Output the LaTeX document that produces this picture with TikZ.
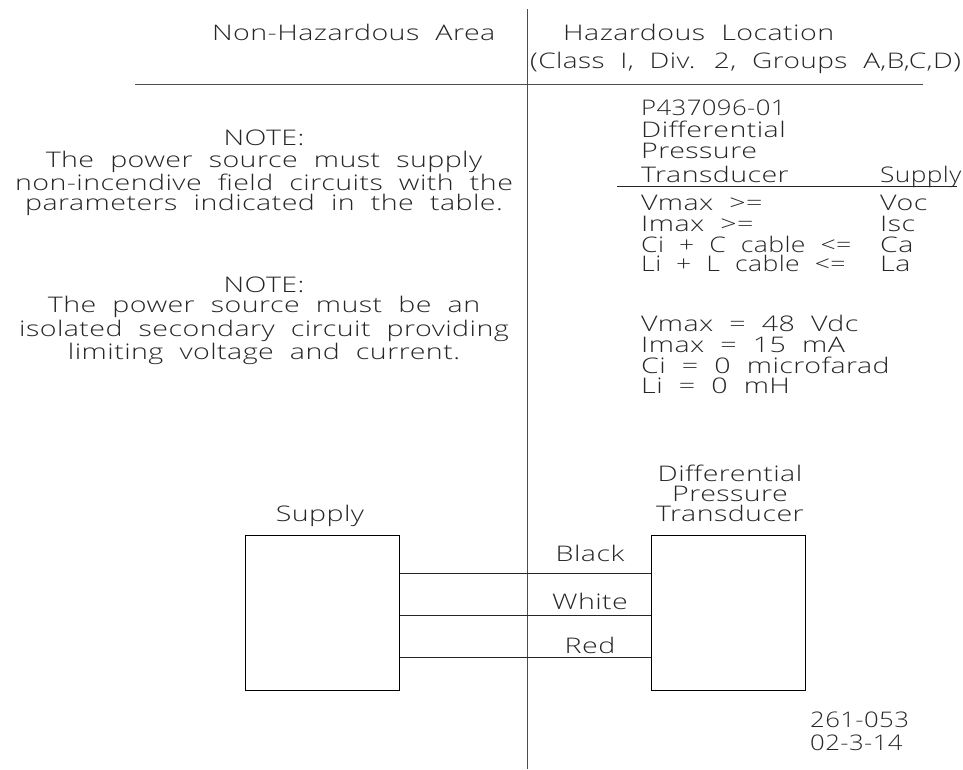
\documentclass[tikz,border=0pt]{standalone}
\usepackage{fontspec}
\usepackage{graphicx}
\setmainfont{Open Sans Light}[FakeStretch=1.33,LetterSpace=2,WordSpace=2.05]
\newcommand{\nar}[2][.9]{\scalebox{#1}[1]{#2}}
\begin{document}
\begin{tikzpicture}[x=1pt,y=-1pt,
 txt/.style={inner sep=0,anchor=base,font=\fontsize{21.5}{21.5}\selectfont,text=black!85},
 ltxt/.style={txt,anchor=base west},
 ln/.style={line width=1pt,black!70},
 bx/.style={draw=black,line width=.9pt,minimum width=154pt,minimum height=155pt,inner sep=0,anchor=north west},
 wire/.style={line width=.9pt,black!85}]
\useasboundingbox (0,0) rectangle (963,769);
\coordinate (t) at (527,9); \coordinate (b) at (527,769);
\draw[ln] (t)--(b);
\coordinate (h1) at (135,84); \coordinate (h2) at (923,84);
\draw[ln] (h1)--(h2);
\coordinate (s1) at (617,186); \coordinate (s2) at (957,186);
\draw[wire] (s1)--(s2);
\node[bx] (sup) at (245,535) {};
\node[bx] (dpt) at (651,535) {};
\draw[wire] (sup.north east |- 0,573) -- (dpt.north west |- 0,573);
\draw[wire] (sup.north east |- 0,615) -- (dpt.north west |- 0,615);
\draw[wire] (sup.north east |- 0,657) -- (dpt.north west |- 0,657);
\foreach \n/\x/\y/\s in {n1/264/145/NOTE:,n2/264/167/The power source must supply,n3/264/190/non-incendive field circuits with the,n4/264/210/parameters indicated in the table.,n5/264/292/NOTE:,n6/264/312/The power source must be an,n7/264/336/isolated secondary circuit providing,n8/264/359/limiting voltage and current.,d1/730/481/Differential,d2/730/501/Pressure,d3/730/521/Transducer,s/320/521/Supply,k1/590/561/Black,k2/590/609/White,k3/590/653/Red}
  \node[txt] (\n) at (\x,\y) {\s};
\foreach \n/\x/\y/\s in {a1/212/40/Non-Hazardous Area,a2/563/40/Hazardous Location,p2/641/137/Differential,p3/641/158/Pressure,p4/641/182/Transducer,p5/641/210/Vmax >=,p6/641/231/Imax >=,q1/880/210/Voc,q2/880/231/Isc,q3/880/252/Ca,q4/880/271/La,v1/641/331/Vmax = 48 Vdc,v2/641/352/Imax = 15 mA,v3/641/373/Ci = 0 microfarad,v4/641/393/Li = 0 mH}
  \node[ltxt] (\n) at (\x,\y) {\s};
\node[ltxt] (p1) at (641,115) {\nar{P437096-01}};
\node[ltxt] (m1) at (810,727) {\nar{261-053}};
\node[ltxt] (m2) at (810,750) {\nar{02-3-14}};
\node[ltxt] (q0) at (880,182) {\nar[.92]{Supply}};
\node[ltxt] (p7) at (641,252) {\nar[.93]{Ci + C cable <=}};
\node[ltxt] (p8) at (641,271) {\nar[.93]{Li + L cable <=}};
\node[ltxt] (a3) at (530,68) {\nar[.98]{(Class I, Div. 2, Groups A,B,C,D)}};
\end{tikzpicture}
\end{document}
